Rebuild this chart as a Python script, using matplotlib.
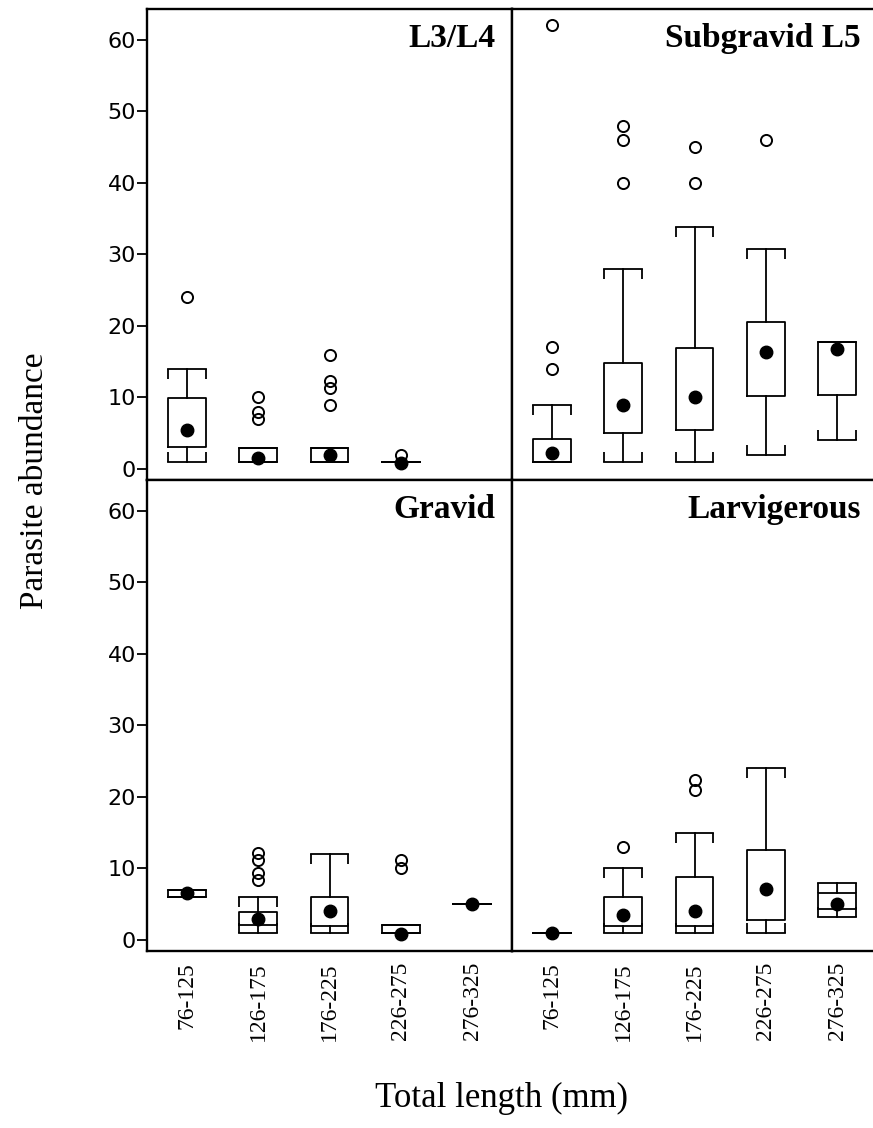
import matplotlib
matplotlib.use("Agg")
import matplotlib.pyplot as plt

# Length classes (mm)
categories = ["76-125", "126-175", "176-225", "226-275", "276-325"]

# L3/L4 (no fish in the largest class)
l34_whislo = [1, 1, 1, 1]
l34_q1 = [3.1, 1, 1, 1]
l34_q3 = [9.9, 3, 3, 1]
l34_whishi = [14, 3, 3, 1]
l34_mean = [5.4, 1.5, 2, 0.9]
l34_out = [[24], [7, 8, 10], [9, 11.3, 12.3, 16], [1.9]]

# Subgravid L5
sub_whislo = [1, 1, 1, 2, 4]
sub_q1 = [1, 5, 5.4, 10.2, 10.3]
sub_q3 = [4.2, 14.8, 16.9, 20.5, 17.7]
sub_whishi = [8.9, 28, 33.8, 30.8, 17.7]
sub_mean = [2.2, 9, 10, 16.4, 16.8]
sub_out = [[14, 17, 62], [40, 46, 48], [40, 45], [46], []]

# Gravid
grv_whislo = [6, 1, 1, 1, 5]
grv_q1 = [6, 2.1, 2, 1, 5]
grv_q3 = [7, 3.9, 6, 2.1, 5]
grv_whishi = [7, 6, 12, 2.1, 5]
grv_mean = [6.6, 3, 4, 0.9, 5]
grv_out = [[], [8.4, 9.4, 11.2, 12.2], [], [10, 11.2], []]

# Larvigerous
lrv_whislo = [1, 1, 1, 1, 3.2]
lrv_q1 = [1, 2, 2, 2.8, 4.3]
lrv_q3 = [1, 6, 8.8, 12.6, 6.6]
lrv_whishi = [1, 10, 15, 24, 8]
lrv_mean = [1, 3.5, 4.1, 7.1, 5]
lrv_out = [[], [13], [21, 22.4], [], []]

yticks = [0, 10, 20, 30, 40, 50, 60]

panels = [
    ("L3/L4", l34_whislo, l34_q1, l34_q3, l34_whishi, l34_mean, l34_out),
    ("Subgravid L5", sub_whislo, sub_q1, sub_q3, sub_whishi, sub_mean, sub_out),
    ("Gravid", grv_whislo, grv_q1, grv_q3, grv_whishi, grv_mean, grv_out),
    ("Larvigerous", lrv_whislo, lrv_q1, lrv_q3, lrv_whishi, lrv_mean, lrv_out),
]

SERIF = "Liberation Serif"
W = 873 / 100
H = 1128 / 100
fig = plt.figure(figsize=(W, H), dpi=100)

left0 = 147 / 873
pw = 365 / 873
top0 = 1 - 9 / 1128
ph = 471 / 1128

box_w = 0.53
tick_len = 1.4
lw = 1.3

axes = []
for i, (title, wlo, q1, q3, whi, mean, outl) in enumerate(panels):
    r, c = divmod(i, 2)
    ax = fig.add_axes([left0 + c * pw, top0 - (r + 1) * ph, pw, ph])
    axes.append(ax)
    n = len(q1)
    pos = list(range(1, n + 1))
    stats = []
    for k in range(n):
        stats.append(dict(med=mean[k], q1=q1[k], q3=q3[k], whislo=wlo[k],
                          whishi=whi[k], mean=mean[k], fliers=outl[k]))
    ax.bxp(stats, positions=pos, widths=box_w, capwidths=box_w,
           showmeans=True, showfliers=True,
           boxprops=dict(color="black", linewidth=lw),
           whiskerprops=dict(color="black", linewidth=lw),
           capprops=dict(color="black", linewidth=lw),
           medianprops=dict(visible=False),
           meanprops=dict(marker="o", markerfacecolor="black",
                          markeredgecolor="black", markersize=9),
           flierprops=dict(marker="o", markerfacecolor="none",
                           markeredgecolor="black", markersize=8,
                           markeredgewidth=1.4))
    # bracket-style whisker caps
    for k in range(n):
        xl, xr = pos[k] - box_w / 2, pos[k] + box_w / 2
        if whi[k] > q3[k]:
            ax.vlines([xl, xr], whi[k] - tick_len, whi[k], color="black", linewidth=lw)
        if wlo[k] < q1[k]:
            ax.vlines([xl, xr], wlo[k], wlo[k] + tick_len, color="black", linewidth=lw)

    ax.set_xlim(0.44, 5.56)
    ax.set_ylim(-1.54, 64.3)
    ax.set_yticks(yticks)
    for s in ax.spines.values():
        s.set_linewidth(1.7)
    ax.set_xticks(range(1, 6))
    if r == 1:
        ax.tick_params(axis="x", length=0, pad=8)
        ax.set_xticklabels(categories, rotation=90)
        for t in ax.get_xticklabels():
            t.set_fontfamily(SERIF)
            t.set_fontsize(17)
    else:
        ax.set_xticklabels([])
        ax.tick_params(axis="x", length=0)
    if c == 0:
        ax.tick_params(axis="y", direction="out", length=7, width=1.3,
                       pad=1, labelsize=16)
        for t in ax.get_yticklabels():
            t.set_fontfamily("DejaVu Sans")
    else:
        ax.tick_params(axis="y", length=0, labelleft=False)
    ax.text(0.955, 0.919, title, transform=ax.transAxes, ha="right",
            va="baseline", fontfamily=SERIF, fontweight="bold", fontsize=24)

fig.text(0.040, 0.574, "Parasite abundance", rotation=90, ha="center",
         va="center", fontfamily=SERIF, fontsize=24)
fig.text(0.574, 0.026, "Total length (mm)", ha="center", va="center",
         fontfamily=SERIF, fontsize=25)

fig.savefig("out.png", dpi=100)
